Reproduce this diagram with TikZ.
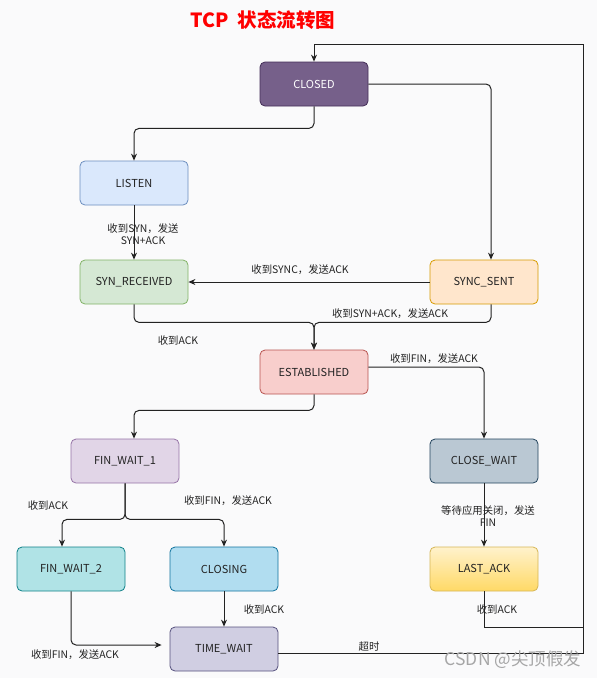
\documentclass[tikz,border=0pt]{standalone}
\usepackage{fontspec}
\setmainfont{Noto Sans CJK SC}
\usetikzlibrary{arrows.meta}
\definecolor{bg}{HTML}{FAFAFB}
\definecolor{ink}{HTML}{222222}
\definecolor{closedfill}{HTML}{76608A}\definecolor{closedline}{HTML}{432D57}
\definecolor{listenfill}{HTML}{DAE8FC}\definecolor{listenline}{HTML}{6C8EBF}
\definecolor{rcvdfill}{HTML}{D5E8D4}\definecolor{rcvdline}{HTML}{82B366}
\definecolor{sentfill}{HTML}{FFE6CC}\definecolor{sentline}{HTML}{D79B00}
\definecolor{estabfill}{HTML}{F8CECC}\definecolor{establine}{HTML}{B85450}
\definecolor{fwonefill}{HTML}{E1D5E7}\definecolor{fwoneline}{HTML}{9673A6}
\definecolor{cwfill}{HTML}{BAC8D3}\definecolor{cwline}{HTML}{23445D}
\definecolor{fwtwofill}{HTML}{B0E3E6}\definecolor{fwtwoline}{HTML}{0E8088}
\definecolor{closingfill}{HTML}{B1DDF0}\definecolor{closingline}{HTML}{10739E}
\definecolor{lasttop}{HTML}{FFF2CC}\definecolor{lastbottom}{HTML}{FFD966}\definecolor{lastline}{HTML}{D6B656}
\definecolor{twfill}{HTML}{D0CEE2}\definecolor{twline}{HTML}{56517E}

\begin{document}
\begin{tikzpicture}[x=1pt, y=-1pt,
  state/.style={rectangle, rounded corners=5pt, draw, line width=0.8pt, minimum width=108pt, minimum height=44pt, text=ink, font=\fontsize{11}{13}\selectfont},
  lbl/.style={inner sep=0pt, text=ink, align=center, font=\fontsize{10.4}{11.5}\selectfont},
  flow/.style={draw=ink, line width=1pt, rounded corners=5pt, -{Stealth[length=7pt,width=6pt]}},
  link/.style={draw=ink, line width=1pt}]
  \fill[bg] (0,0) rectangle (597,678);
  \useasboundingbox (0,0) rectangle (597,678);
  \node[inner sep=0pt, text=red, font=\fontsize{19.5}{22}\selectfont\bfseries] (title) at (263,20) {TCP\ \ 状态流转图};
  \node[state, fill=closedfill, draw=closedline, text=white] (closed) at (314,84) {CLOSED};
  \node[state, fill=listenfill, draw=listenline] (listen) at (134,183) {LISTEN};
  \node[state, fill=rcvdfill, draw=rcvdline] (synrcvd) at (134,282) {SYN\_RECEIVED};
  \node[state, fill=sentfill, draw=sentline] (syncsent) at (484,282) {SYNC\_SENT};
  \node[state, fill=estabfill, draw=establine] (estab) at (314,372) {ESTABLISHED};
  \node[state, fill=fwonefill, draw=fwoneline] (finwait1) at (125,461) {FIN\_WAIT\_1};
  \node[state, fill=cwfill, draw=cwline] (closewait) at (484,461) {CLOSE\_WAIT};
  \node[state, fill=fwtwofill, draw=fwtwoline] (finwait2) at (71,569) {FIN\_WAIT\_2};
  \node[state, fill=closingfill, draw=closingline] (closing) at (224,569) {CLOSING};
  \node[state, top color=lasttop, bottom color=lastbottom, draw=lastline] (lastack) at (484,569) {LAST\_ACK};
  \node[state, fill=twfill, draw=twline] (timewait) at (224,649) {TIME\_WAIT};
  \coordinate (rt) at (583,44);
  \coordinate (rb) at (583,627);
  \draw[flow] (closed.south) -- ++(0,22) -| (listen.north);
  \draw[flow] (closed.east) -| ([xshift=7pt]syncsent.north);
  \draw[flow] (listen) -- (synrcvd);
  \draw[flow] (syncsent) -- (synrcvd);
  \draw[flow] (synrcvd.south) -- ++(0,18) -| (estab.north);
  \draw[flow] ([xshift=7pt]syncsent.south) -- ++(0,18) -| (estab.north);
  \draw[flow] ([yshift=5pt]estab.east) -| (closewait.north);
  \draw[flow] (estab.south) -- ++(0,16) -| ([xshift=9pt]finwait1.north);
  \draw[flow] (finwait1.south) -- ++(0,36) -| ([xshift=-9pt]finwait2.north);
  \draw[flow] (finwait1.south) -- ++(0,36) -| (closing.north);
  \draw[flow] (closing) -- (timewait);
  \draw[flow, shorten >=8pt] (finwait2.south) |- ([yshift=4pt]timewait.west);
  \draw[flow] (closewait) -- (lastack);
  \draw[link] (lastack.south) |- (rb);
  \draw[flow, rounded corners=0pt] ([yshift=-4pt]timewait.east) -| (rt) -| (closed.north);
  \node[lbl] (t1) at (143,234) {收到SYN，发送\\SYN+ACK};
  \node[lbl] (t2) at (300,270) {收到SYNC，发送ACK};
  \node[lbl] (t3) at (178,341) {收到ACK};
  \node[lbl] (t4) at (390,314) {收到SYN+ACK，发送ACK};
  \node[lbl] (t5) at (434,359) {收到FIN，发送ACK};
  \node[lbl] (t6) at (48,506) {收到ACK};
  \node[lbl] (t7) at (228,501) {收到FIN，发送ACK};
  \node[lbl] (t8) at (488,516) {等待应用关闭，发送\\FIN};
  \node[lbl] (t9) at (264,610) {收到ACK};
  \node[lbl] (t10) at (497,610) {收到ACK};
  \node[lbl] (t11) at (75,655) {收到FIN，发送ACK};
  \node[lbl] (t12) at (369,647) {超时};
  \node[inner sep=0pt, text=black!35, font=\fontsize{17.5}{19}\selectfont] (mark) at (513,660) {CSDN @尖顶假发};
\end{tikzpicture}
\end{document}
